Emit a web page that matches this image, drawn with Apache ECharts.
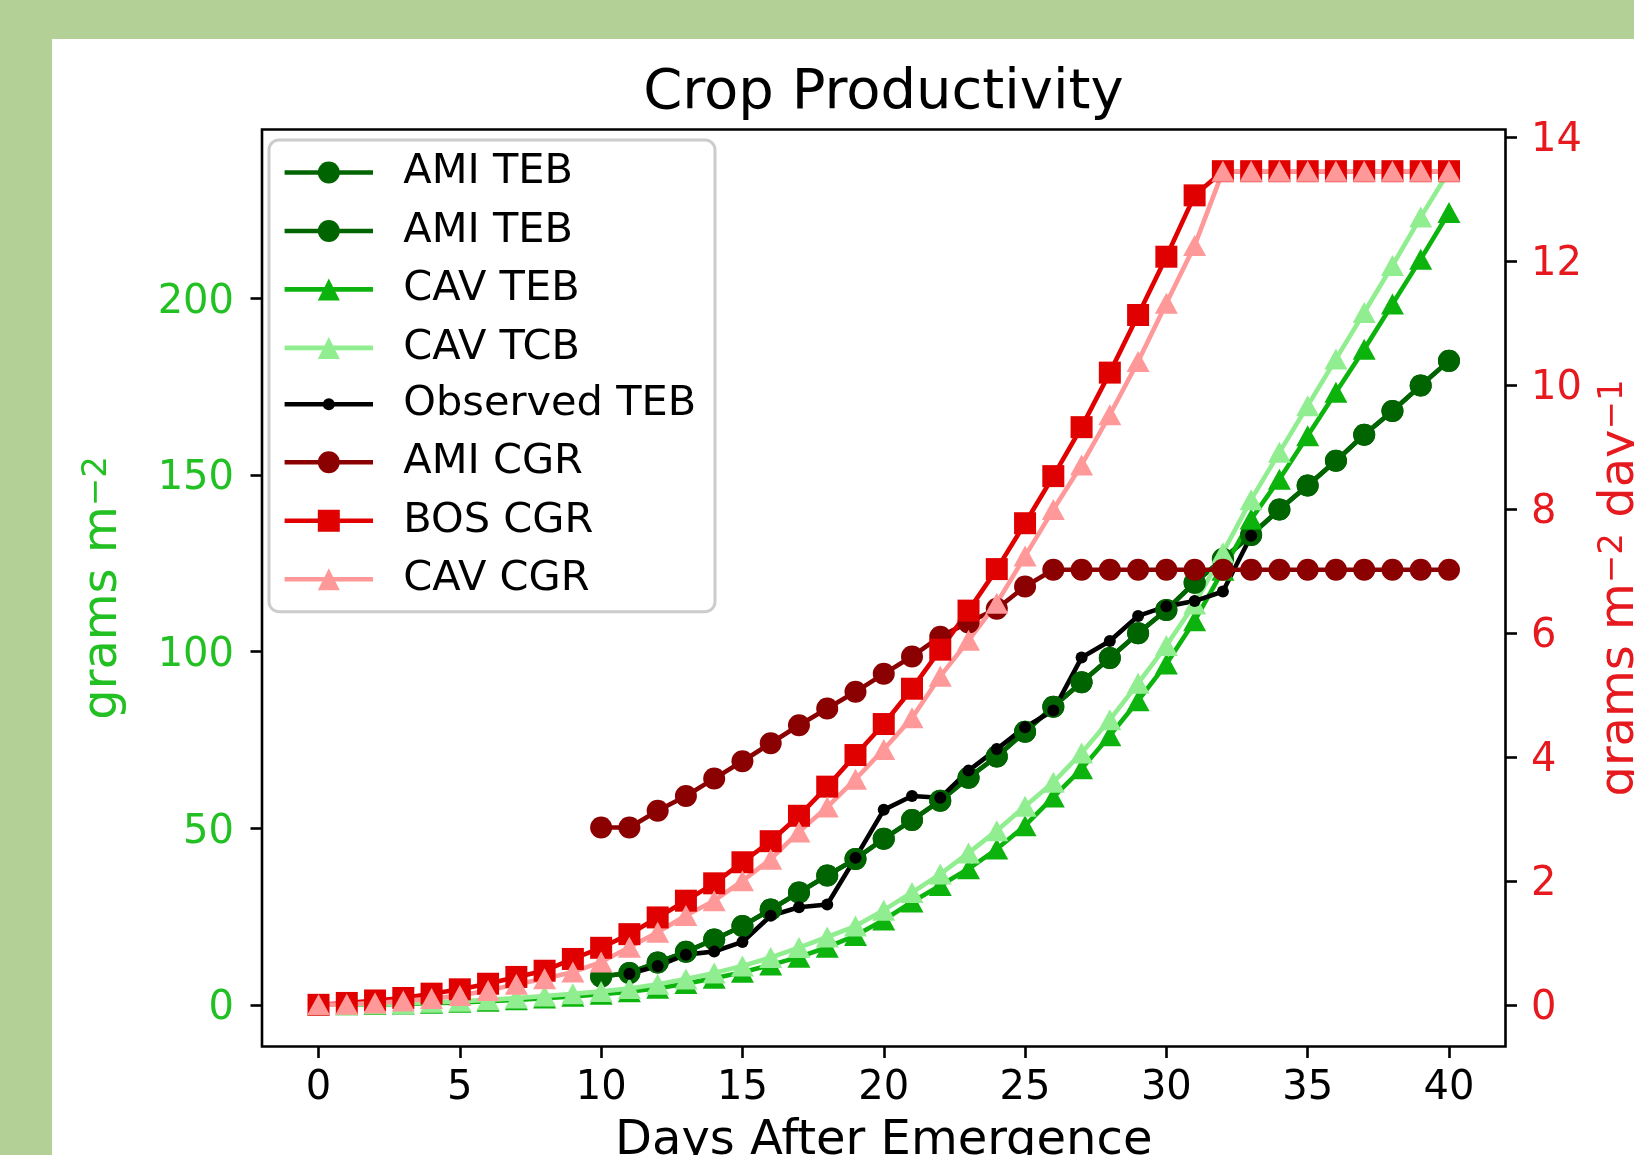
<!DOCTYPE html>
<html>
<head>
<meta charset="utf-8">
<script src="https://cdn.jsdelivr.net/npm/echarts@6/dist/echarts.min.js"></script>
<style>
html,body{margin:0;padding:0;width:1634px;height:1155px;overflow:hidden;background:#b3d196;}
#card{position:absolute;left:52px;top:39px;right:0;bottom:0;background:#ffffff;}
#chart{position:absolute;left:0;top:0;width:1634px;height:1155px;}
</style>
</head>
<body>
<div id="card"></div>
<div id="chart"></div>
<script>
// ---- data ----
const days = [0,1,2,3,4,5,6,7,8,9,10,11,12,13,14,15,16,17,18,19,20,21,22,23,24,25,26,27,28,29,30,31,32,33,34,35,36,37,38,39,40];
const amiDays = [10,11,12,13,14,15,16,17,18,19,20,21,22,23,24,25,26,27,28,29,30,31,32,33,34,35,36,37,38,39,40];
const obsDays = [11,12,13,14,15,16,17,18,19,20,21,22,23,24,25,26,27,28,29,30,31,32,33];

const amiTEB = [8.0,9.0,12.0,15.0,18.5,22.3,27.0,31.8,36.6,41.3,47.0,52.3,57.8,64.3,70.3,77.3,84.4,91.3,98.2,105.2,111.8,119.5,126.2,133.0,140.2,147.0,154.0,161.4,168.1,175.3,182.3];
const cavTEB = [0,0.02,0.1,0.25,0.45,0.7,1.0,1.4,1.9,2.4,3.0,3.7,4.7,6.0,7.5,9.2,11.3,13.5,16.3,19.6,24.0,29.1,33.8,38.5,44.1,50.7,58.8,66.8,76.2,86.1,96.5,108.7,123.0,137.5,148.8,161.1,173.4,185.6,198.4,211.1,224.3];
const cavTCB = [0,0.05,0.2,0.4,0.7,1.0,1.4,1.9,2.5,3.1,3.8,4.6,5.8,7.3,9.0,11.0,13.4,16.2,19.2,22.3,26.8,31.8,37.0,43.0,49.3,56.2,63.0,71.3,80.7,91.0,101.7,113.5,128.0,143.0,156.4,169.6,182.8,196.0,209.3,223.0,236.0];
const obsTEB = [8.8,11.0,14.2,15.1,17.8,25.2,27.6,28.4,41.6,55.2,59.1,58.6,66.3,72.4,78.6,83.3,98.3,103.0,110.1,112.8,114.3,117.0,132.8];
const amiCGR = [2.86,2.86,3.13,3.37,3.65,3.93,4.22,4.51,4.78,5.05,5.34,5.62,5.94,6.17,6.39,6.75,7.02,7.02,7.02,7.02,7.02,7.02,7.02,7.02,7.02,7.02,7.02,7.02,7.02,7.02,7.02];
const bosCGR = [0,0.03,0.07,0.11,0.18,0.25,0.34,0.45,0.55,0.74,0.92,1.14,1.41,1.68,1.96,2.30,2.64,3.05,3.52,4.03,4.53,5.10,5.73,6.36,7.03,7.77,8.53,9.32,10.20,11.13,12.07,13.06,13.45,13.45,13.45,13.45,13.45,13.45,13.45,13.45,13.45];
const cavCGR = [0,0.01,0.03,0.06,0.10,0.15,0.23,0.33,0.42,0.53,0.69,0.93,1.17,1.44,1.68,2.00,2.35,2.79,3.19,3.64,4.12,4.63,5.30,5.88,6.48,7.24,7.99,8.71,9.52,10.38,11.32,12.25,13.45,13.45,13.45,13.45,13.45,13.45,13.45,13.45,13.45];

const xTicks = [0,5,10,15,20,25,30,35,40];
const leftTicks = [0,50,100,150,200];
const rightTicks = [0,2,4,6,8,10,12,14];

// ---- styling ----
const FONT = 'DejaVu Sans';
const GREEN_LABEL = '#22c022';
const RED_LABEL = '#e6191e';
const LW = 4.6;

function pairs(xs, ys) { return xs.map(function (x, i) { return [x, ys[i]]; }); }

function lineSeries(name, xs, ys, color, symbol, size, yAxisIndex) {
  return {
    type: 'line', name: name, yAxisIndex: yAxisIndex,
    data: pairs(xs, ys),
    symbol: symbol, symbolSize: size, showSymbol: true, showAllSymbol: true,
    lineStyle: { color: color, width: LW },
    itemStyle: { color: color },
    emphasis: { disabled: true },
    animation: false
  };
}

const legendCommon = {
  orient: 'vertical', left: 282.3, padding: 0,
  itemWidth: 88.4, itemGap: 16.46, selectedMode: false, z: 10,
  lineStyle: { width: LW },
  itemStyle: { borderWidth: 0 },
  textStyle: { fontSize: 41.5, lineHeight: 41.5, fontFamily: FONT, color: '#000', padding: [0, 0, 0, 25.3] }
};

const supRich = function (color) {
  return {
    m: { fontSize: 48, lineHeight: 48, verticalAlign: 'bottom', color: color, fontFamily: FONT },
    s: { fontSize: 34, lineHeight: 34, verticalAlign: 'top', padding: [0, 0, 21, 0], color: color, fontFamily: FONT }
  };
};

const option = {
  backgroundColor: 'transparent',
  animation: false,
  title: {
    text: 'Crop Productivity', left: 883.4, top: 65, textAlign: 'center', textVerticalAlign: 'top', padding: 0,
    textStyle: { fontSize: 56, lineHeight: 56, fontWeight: 'normal', color: '#000', fontFamily: FONT }
  },
  grid: {
    left: 262, right: 128.5, top: 129.5, bottom: 108.5,
    show: true, borderColor: '#000', borderWidth: 2.6, backgroundColor: 'transparent',
    containLabel: false, outerBoundsMode: 'none'
  },
  legend: [
    Object.assign({}, legendCommon, { top: 151.5, itemHeight: 27.5, data: ['AMI TEB', 'AMI TEB ', 'CAV TEB', 'CAV TCB'] }),
    Object.assign({}, legendCommon, { top: 383.3, itemHeight: 15, data: ['Observed TEB'] }),
    Object.assign({}, legendCommon, { top: 441.3, itemHeight: 27.5, data: ['AMI CGR', 'BOS CGR', 'CAV CGR'] })
  ],
  graphic: [{
    type: 'rect', z: 9, silent: true,
    shape: { x: 269, y: 140, width: 446, height: 471.7, r: 10 },
    style: { fill: 'rgba(255,255,255,0.8)', stroke: '#cccccc', lineWidth: 3 }
  }],
  xAxis: {
    type: 'value', min: -2, max: 42, position: 'bottom',
    axisLine: { show: false, onZero: false },
    axisTick: { show: true, length: 11.5, lineStyle: { color: '#000', width: 2.6 }, customValues: xTicks },
    axisLabel: { customValues: xTicks, fontSize: 40, color: '#000', margin: 22.5, fontFamily: FONT },
    splitLine: { show: false },
    name: 'Days After Emergence', nameLocation: 'middle', nameGap: 71, nameMoveOverlap: false,
    nameTextStyle: { fontSize: 48, lineHeight: 48, color: '#000', fontFamily: FONT }
  },
  yAxis: [{
    type: 'value', min: -11.8, max: 247.8, position: 'left',
    axisLine: { show: false, onZero: false },
    axisTick: { show: true, length: 11.5, lineStyle: { color: '#000', width: 2.6 }, customValues: leftTicks },
    axisLabel: { customValues: leftTicks, fontSize: 40, color: GREEN_LABEL, margin: 28, verticalAlign: 'top', lineHeight: 8, fontFamily: FONT },
    splitLine: { show: false },
    name: '{m|grams m}{s|\u22122}', nameLocation: 'middle', nameGap: 134, nameRotate: 90, nameMoveOverlap: false,
    nameTextStyle: { color: GREEN_LABEL, fontFamily: FONT, rich: supRich(GREEN_LABEL) }
  }, {
    type: 'value', min: -0.6725, max: 14.1225, position: 'right',
    axisLine: { show: false, onZero: false },
    axisTick: { show: true, length: 11.5, lineStyle: { color: '#000', width: 2.6 }, customValues: rightTicks },
    axisLabel: { customValues: rightTicks, fontSize: 40, color: RED_LABEL, margin: 25.5, verticalAlign: 'top', lineHeight: 8, fontFamily: FONT },
    splitLine: { show: false },
    name: '{m|grams m}{s|\u22122}{m| day}{s|\u22121}', nameLocation: 'middle', nameGap: 91, nameRotate: 90, nameMoveOverlap: false,
    nameTextStyle: { color: RED_LABEL, fontFamily: FONT, rich: supRich(RED_LABEL) }
  }],
  series: [
    lineSeries('AMI TEB', amiDays, amiTEB, '#006400', 'circle', 22, 0),
    lineSeries('AMI TEB ', amiDays, amiTEB, '#006400', 'circle', 22, 0),
    lineSeries('CAV TEB', days, cavTEB, '#0cb30c', 'triangle', [23, 21], 0),
    lineSeries('CAV TCB', days, cavTCB, '#90ee90', 'triangle', [23, 21], 0),
    lineSeries('Observed TEB', obsDays, obsTEB, '#000000', 'circle', 12, 0),
    lineSeries('AMI CGR', amiDays, amiCGR, '#8b0000', 'circle', 22, 1),
    lineSeries('BOS CGR', days, bosCGR, '#e00000', 'rect', 22, 1),
    lineSeries('CAV CGR', days, cavCGR, '#ff9999', 'triangle', [23, 21], 1)
  ]
};

const chart = echarts.init(document.getElementById('chart'), null, { renderer: 'canvas', width: 1634, height: 1155 });
chart.setOption(option);
</script>
</body>
</html>
